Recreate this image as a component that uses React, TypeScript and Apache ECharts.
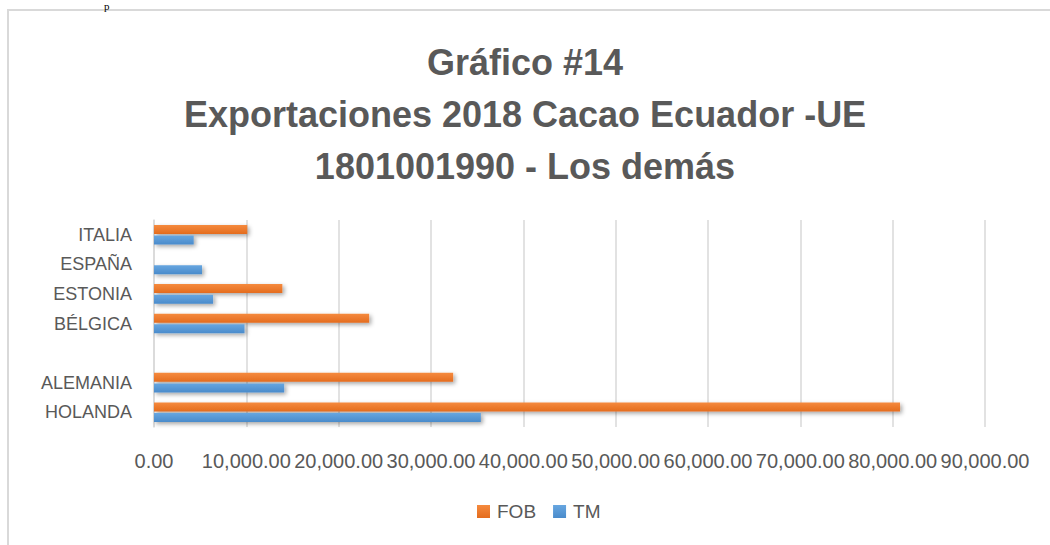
import React, { useEffect, useRef } from "react";
import * as echarts from "echarts";

const titleLines = ["Gráfico #14", "Exportaciones 2018 Cacao Ecuador -UE", "1801001990 - Los demás"];
const categories = ["HOLANDA", "ALEMANIA", "", "BÉLGICA", "ESTONIA", "ESPAÑA", "ITALIA"];
const fobValues: (number | null)[] = [80800, 32400, null, 23300, 13900, null, 10100];
const tmValues: (number | null)[] = [35400, 14100, null, 9800, 6400, 5200, 4300];
const xMin = 0;
const xMax = 90000;
const xInterval = 10000;

const FONT = "'Liberation Sans', 'DejaVu Sans', sans-serif";
const GREY = "#595959";

export default function App() {
  const ref = useRef<HTMLDivElement>(null);
  useEffect(() => {
    if (!ref.current) return;
    const chart = echarts.init(ref.current, undefined, { renderer: "svg" });
    const barStyle = (c1: string, c2: string) => ({
      color: new echarts.graphic.LinearGradient(0, 0, 0, 1, [
        { offset: 0, color: c1 },
        { offset: 1, color: c2 },
      ]),
      shadowColor: "rgba(0,0,0,0.35)",
      shadowBlur: 4,
      shadowOffsetX: 2,
      shadowOffsetY: 2,
    });
    chart.setOption({
      animation: false,
      backgroundColor: "#ffffff",
      title: {
        text: titleLines.join("\n"),
        left: "center",
        top: 31,
        textStyle: {
          fontFamily: FONT,
          fontWeight: "bold",
          fontSize: 36,
          lineHeight: 52,
          color: GREY,
        },
      },
      legend: {
        data: ["FOB", "TM"],
        top: 502,
        left: 477,
        padding: 0,
        itemWidth: 13,
        itemHeight: 13,
        itemGap: 17,
        icon: "rect",
        textStyle: { fontFamily: FONT, fontSize: 19, color: GREY, padding: [0, 0, 0, 2] },
      },
      grid: { left: 154, right: 65, top: 220, bottom: 118, containLabel: false },
      xAxis: {
        type: "value",
        min: xMin,
        max: xMax,
        interval: xInterval,
        axisLine: { show: false },
        axisTick: { show: false },
        splitLine: { lineStyle: { color: "#D9D9D9", width: 1.5 } },
        axisLabel: {
          margin: 24,
          fontFamily: FONT,
          fontSize: 20,
          color: GREY,
          hideOverlap: false,
          formatter: (v: number) =>
            v.toLocaleString("en-US", { minimumFractionDigits: 2, maximumFractionDigits: 2 }),
        },
      },
      yAxis: {
        type: "category",
        data: categories,
        axisLine: { show: true, lineStyle: { color: "#D9D9D9", width: 1.5 } },
        axisTick: { show: false },
        axisLabel: { fontFamily: FONT, fontSize: 18, color: GREY, margin: 22, interval: 0 },
      },
      series: [
        {
          name: "FOB",
          type: "bar",
          data: fobValues,
          barWidth: 9,
          barGap: "18%",
          itemStyle: barStyle("#F58A3E", "#E46C1E"),
        },
        {
          name: "TM",
          type: "bar",
          data: tmValues,
          barWidth: 9,
          barGap: "18%",
          itemStyle: barStyle("#67A6E0", "#4A8BCB"),
        },
      ],
      graphic: [
        {
          type: "rect",
          shape: { x: 8, y: 10, width: 1060, height: 560 },
          style: { fill: "none", stroke: "#D9D9D9", lineWidth: 2 },
          silent: true,
        },
        {
          type: "text",
          x: 104,
          y: 0,
          style: {
            text: "p",
            font: "11px 'Liberation Serif', serif",
            fill: "#000",
            textVerticalAlign: "top",
          },
          silent: true,
        },
      ],
    });
    return () => chart.dispose();
  }, []);
  return (
    <div
      ref={ref}
      style={{ position: "fixed", left: 0, top: 0, width: 1050, height: 545 }}
    />
  );
}
